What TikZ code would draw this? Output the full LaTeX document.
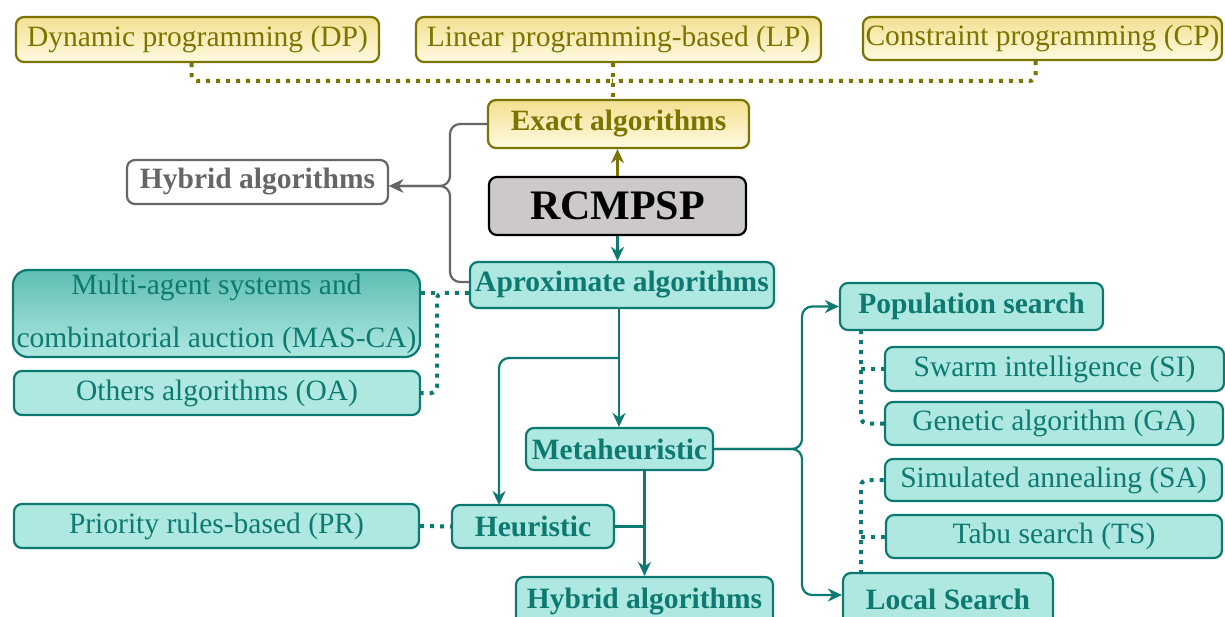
\documentclass[tikz,border=0pt]{standalone}
\usepackage{fontspec}
\setmainfont{Liberation Serif}
\usetikzlibrary{arrows.meta}
\definecolor{tealc}{RGB}{12,122,112}
\definecolor{tfill}{RGB}{174,232,225}
\definecolor{mastop}{RGB}{95,190,178}
\definecolor{olivec}{RGB}{122,116,0}
\definecolor{ytop}{RGB}{243,224,145}
\definecolor{ybot}{RGB}{255,250,225}
\definecolor{grayc}{RGB}{102,102,102}
\definecolor{rcfill}{RGB}{205,201,201}
\begin{document}
\begin{tikzpicture}[x=1pt,y=-1pt,
  box/.style={draw, line width=2.2pt, rounded corners=8pt, inner sep=1pt,
    font=\fontsize{29.5}{35}\selectfont},
  ybox/.style={box, draw=olivec, text=olivec, top color=ytop, bottom color=ybot},
  tbox/.style={box, draw=tealc, text=tealc, fill=tfill},
  bf/.style={font=\fontsize{29.5}{35}\selectfont\bfseries},
  tip/.style={-{Stealth[length=14pt,width=13pt,inset=4.5pt]}},
  tlink/.style={draw=tealc, line width=2.2pt},
  glink/.style={draw=grayc, line width=2.2pt},
  olink/.style={draw=olivec, line width=2.2pt},
  dotl/.style={line width=4pt, dash pattern=on 4pt off 6pt, rounded corners=6pt},
]
\clip (0,0) rectangle (1225,617);
\fill[white] (0,0) rectangle (1225,617);

% top row
\node[ybox, minimum width=363pt, minimum height=45pt] (DP) at (197.5,39.5) {Dynamic programming (DP)};
\node[ybox, minimum width=405pt, minimum height=45pt] (LP) at (618.5,39.5) {Linear programming-based (LP)};
\node[ybox, minimum width=359pt, minimum height=43pt] (CP) at (1042.5,38.5) {Constraint programming (CP)};

\node[ybox, bf, minimum width=261pt, minimum height=48pt] (Exact) at (618.5,124) {Exact algorithms};
\node[box, fill=rcfill, draw=black, text=black, font=\fontsize{42}{48}\selectfont\bfseries,
  minimum width=257pt, minimum height=58pt] (RC) at (617.5,206) {RCMPSP};
\node[box, draw=grayc, text=grayc, fill=white, bf, minimum width=261pt, minimum height=44pt] (HybG) at (257.5,182) {Hybrid algorithms};

\node[tbox, bf, minimum width=304pt, minimum height=46pt] (Apx) at (622,285) {Aproximate algorithms};
\node[box, draw=tealc, text=tealc, top color=mastop, bottom color=tfill, rounded corners=15pt,
  align=center, font=\fontsize{29.5}{53}\selectfont,
  minimum width=407pt, minimum height=87pt] (MAS) at (216.5,313.5) {Multi-agent systems and\\combinatorial auction (MAS-CA)};
\node[tbox, minimum width=406pt, minimum height=44pt] (OA) at (217,393) {Others algorithms (OA)};

\node[tbox, bf, minimum width=187pt, minimum height=42pt] (Meta) at (619.5,449) {Metaheuristic};
\node[tbox, bf, minimum width=162pt, minimum height=43pt] (Heur) at (533,526.5) {Heuristic};
\node[tbox, bf, minimum width=257pt, minimum height=50pt] (HybT) at (644.5,602) {Hybrid algorithms};
\node[tbox, minimum width=405pt, minimum height=44pt] (PR) at (216.5,526) {Priority rules-based (PR)};

\node[tbox, bf, minimum width=263pt, minimum height=47pt] (Pop) at (971.5,306.5) {Population search};
\node[tbox, minimum width=339pt, minimum height=44pt] (SI) at (1054.5,369) {Swarm intelligence (SI)};
\node[tbox, minimum width=338pt, minimum height=43pt] (GA) at (1054,423.5) {Genetic algorithm (GA)};
\node[tbox, minimum width=337pt, minimum height=42pt] (SA) at (1053.5,480) {Simulated annealing (SA)};
\node[tbox, minimum width=336pt, minimum height=43pt] (TS) at (1054,536.5) {Tabu search (TS)};
\node[tbox, bf, minimum width=210pt, minimum height=52pt] (Loc) at (948,599) {Local Search};

% top dotted olive connectors
\coordinate (tj) at (612,81);
\draw[dotl, olivec] ([xshift=-6pt]DP.south) |- (tj);
\draw[dotl, olivec] ([xshift=-7pt]CP.south) |- (tj);
\draw[dotl, olivec] ([xshift=-6pt]LP.south) -- ([xshift=-6pt]Exact.north);

% RCMPSP links
\draw[olink, tip] (RC.north) -- (RC.north |- Exact.south);
\draw[tlink, tip] (RC.south) -- (RC.south |- Apx.north);

% gray hybrid links
\coordinate (hj) at (450,186);
\coordinate (ha) at (470,282);
\draw[glink, tip, rounded corners=10pt] (Exact.west) -| (hj) -- (HybG.east |- hj);
\draw[glink, tip, rounded corners=10pt] (Apx.west |- ha) -| (hj) -- (HybG.east |- hj);

% dotted teal left
\coordinate (dj) at (437,293);
\draw[dotl, tealc] (Apx.west |- dj) -- (dj) |- (OA.east);
\draw[dotl, tealc] (MAS.east |- dj) -- (dj);
\draw[dotl, tealc] (PR.east) -- (Heur.west);

% main teal links
\coordinate (av) at (619,308);
\coordinate (b1) at (619,358);
\coordinate (hx) at (499,505);
\coordinate (lw) at (843,595);
\draw[tlink, tip] (av) -- (av |- Meta.north);
\draw[tlink, tip, rounded corners=10pt] (b1) -| (hx);
\draw[tlink, tip] (HybT.north |- Meta.south) -- (HybT.north);
\draw[tlink] (Heur.east) -- (HybT.north |- Heur.east);

\coordinate (mj) at (802,449);
\draw[tlink, tip, rounded corners=10pt] (Meta.east) -- (mj) |- (Pop.west);
\draw[tlink, tip, rounded corners=10pt] (Meta.east) -- (mj) |- (Loc.west |- lw);

% dotted teal right
\coordinate (pv) at (861,330);
\coordinate (lv) at (861,574);
\draw[dotl, tealc] (pv) |- (GA.west);
\draw[dotl, tealc] (SI.west -| pv) -- (SI.west);
\draw[dotl, tealc] (lv) |- (SA.west);
\draw[dotl, tealc] (TS.west -| lv) -- (TS.west);
\end{tikzpicture}
\end{document}
